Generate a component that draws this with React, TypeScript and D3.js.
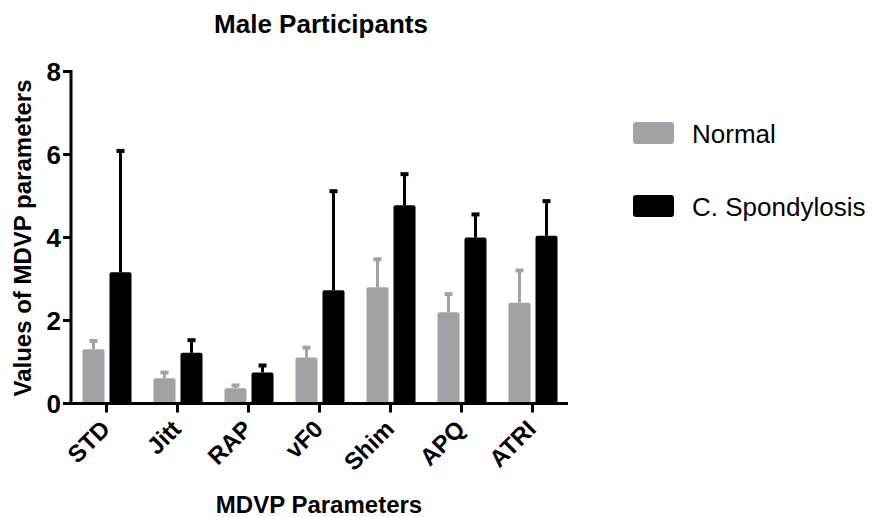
import React from 'react';
import * as d3 from 'd3';

const categories = ['STD', 'Jitt', 'RAP', 'vF0', 'Shim', 'APQ', 'ATRI'];
const normalMean = [1.31, 0.61, 0.37, 1.11, 2.8, 2.2, 2.43];
const normalErr = [0.22, 0.16, 0.09, 0.26, 0.7, 0.46, 0.8];
const spondMean = [3.16, 1.22, 0.75, 2.73, 4.78, 4.0, 4.04];
const spondErr = [2.95, 0.33, 0.19, 2.41, 0.77, 0.58, 0.86];
const yTicks = [0, 2, 4, 6, 8];
const seriesNames = ['Normal', 'C. Spondylosis'];

const GRAY = '#a2a2a6';
const BLACK = '#000000';
const FONT = '"Liberation Sans", Arial, Helvetica, sans-serif';

const App = () => {
    const width = 878;
    const height = 517;

    const x = d3.scaleBand<string>()
        .domain(categories)
        .range([71, 568])
        .paddingInner(0)
        .paddingOuter(0);

    const y = d3.scaleLinear()
        .domain([0, 8])
        .range([403.5, 71.5]);

    const barW = 22;
    const series = [
        { name: seriesNames[0], mean: normalMean, err: normalErr, color: GRAY, off: -24 },
        { name: seriesNames[1], mean: spondMean, err: spondErr, color: BLACK, off: 3 },
    ];

    return (
        <svg width={width} height={height} style={{ position: 'absolute', left: 0, top: 0, background: '#fff' }}
            fontFamily={FONT}>
            <text x={321} y={33} textAnchor="middle" fontWeight="bold" fontSize={26}>Male Participants</text>

            {series.map(s => (
                <g key={s.name}>
                    {categories.map((c, i) => {
                        const cx = (x(c) as number) + x.bandwidth() / 2;
                        const left = cx + s.off;
                        const mid = left + barW / 2;
                        const top = y(s.mean[i]);
                        const errTop = y(s.mean[i] + s.err[i]);
                        return (
                            <g key={c}>
                                <line x1={mid} x2={mid} y1={top} y2={errTop} stroke={s.color} strokeWidth={3} />
                                <rect x={mid - 4} y={errTop - 1} width={8} height={4} fill={s.color} />
                                <rect x={left} y={top} width={barW} height={y(0) - top} rx={2} fill={s.color} />
                            </g>
                        );
                    })}
                </g>
            ))}

            {/* y axis */}
            <line x1={71} x2={71} y1={y(8) - 1.5} y2={y(0) + 1.5} stroke="#000" strokeWidth={3} />
            {yTicks.map(t => (
                <g key={t}>
                    <line x1={63} x2={71} y1={y(t)} y2={y(t)} stroke="#000" strokeWidth={3} />
                    <text x={61} y={y(t)} dy="0.36em" textAnchor="end" fontWeight="bold" fontSize={26}>{t}</text>
                </g>
            ))}
            <text transform={`translate(31,238) rotate(-90)`} textAnchor="middle" fontWeight="bold" fontSize={24}>
                Values of MDVP parameters
            </text>

            {/* x axis */}
            <line x1={69.5} x2={568} y1={y(0)} y2={y(0)} stroke="#000" strokeWidth={3} />
            {categories.map(c => {
                const cx = (x(c) as number) + x.bandwidth() / 2;
                return (
                    <g key={c}>
                        <line x1={cx} x2={cx} y1={y(0)} y2={y(0) + 9} stroke="#000" strokeWidth={3} />
                        <text transform={`translate(${cx + 5},${y(0) + 27}) rotate(-45)`} textAnchor="end"
                            fontWeight="bold" fontSize={24}>{c}</text>
                    </g>
                );
            })}
            <text x={319} y={513} textAnchor="middle" fontWeight="bold" fontSize={24}>MDVP Parameters</text>

            {/* legend */}
            {series.map((s, i) => (
                <g key={s.name} transform={`translate(633,${122 + i * 73})`}>
                    <rect width={41} height={22} rx={3} fill={s.color} />
                    <text x={59} y={21} fontSize={26}>{s.name}</text>
                </g>
            ))}
        </svg>
    );
};

export default App;
